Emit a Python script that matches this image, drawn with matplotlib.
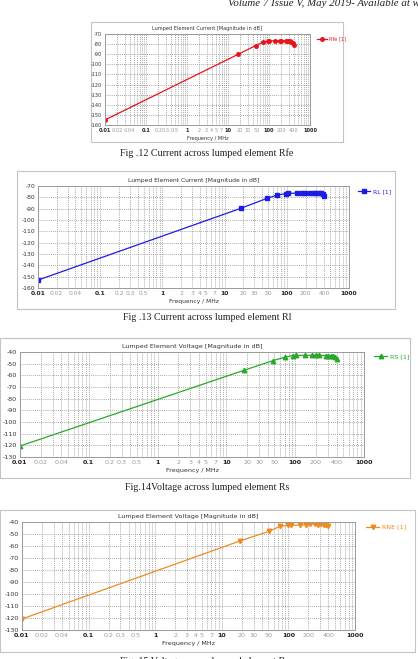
import matplotlib
matplotlib.use("Agg")
import matplotlib.pyplot as plt
from matplotlib.patches import Rectangle
from matplotlib.ticker import LogLocator, NullFormatter

W, H = 418, 659

# frequency tick labels shown on every chart
tick_freqs = [0.01, 0.02, 0.04, 0.1, 0.2, 0.3, 0.5, 1, 2, 3, 4, 5, 7, 10, 20, 30, 50, 100, 200, 400, 1000]
tick_labels = ["0.01", "0.02", "0.04", "0.1", "0.2", "0.3", "0.5", "1", "2", "3", "4", "5", "7",
               "10", "20", "30", "50", "100", "200", "400", "1000"]
strong_labels = ["0.01", "0.1", "1", "10", "100", "1000"]

# Fig 12 - Rfe current
rfe_freq = [0.01, 17.8, 47, 70, 92, 100, 141, 190, 200, 260, 290, 320, 350, 375, 400]
rfe_db = [-155, -90, -81.5, -78.3, -77.3, -77.0, -76.6, -76.5, -76.6, -76.8, -76.9, -77.2, -77.8, -79.0, -80.5]

# Fig 13 - RL current
rl_freq = [0.01, 18.2, 47.5, 70, 96, 103, 144, 177, 198, 236, 274, 300, 330, 360, 385, 400]
rl_db = [-153, -89.7, -81.0, -78.0, -76.8, -76.5, -76.3, -76.2, -76.0, -76.4, -76.2, -76.2, -76.3, -76.5, -77.0, -78.7]

# Fig 14 - RS voltage
rs_freq = [0.01, 18, 47.5, 72, 93, 104, 140, 175, 202, 225, 280, 300, 330, 350, 380, 400]
rs_db = [-120.6, -55.7, -47.4, -44.3, -43.0, -42.9, -42.8, -42.8, -42.4, -42.8, -43.0, -43.0, -43.1, -43.4, -44.3, -46.3]

# Fig 15 - RNE voltage
rne_freq = [0.01, 18.7, 51.7, 74.6, 99.5, 111, 149, 182, 209, 250, 280, 310, 340, 370, 400]
rne_db = [-120.8, -55.8, -47.7, -43.6, -42.8, -42.8, -42.5, -42.2, -41.4, -42.0, -42.2, -42.0, -42.2, -42.5, -43.3]


def fx(x):
    return x / W


def fy(y):
    return 1 - y / H


def draw_panel(fig, frame, plot, freq, db, ylim, title, label, color, marker, fs, leg_xy):
    x0, y0, x1, y1 = frame
    fig.add_artist(Rectangle((fx(x0), fy(y1)), fx(x1 - x0), (y1 - y0) / H, transform=fig.transFigure,
                             facecolor="white", edgecolor="#c4c4c4", linewidth=0.8, zorder=0))
    px0, py0, px1, py1 = plot
    ax = fig.add_axes([fx(px0), fy(py1), fx(px1 - px0), (py1 - py0) / H])
    ax.plot(freq, db, color=color, marker=marker, markersize=fs * 0.7, linewidth=0.9, label=label)
    ax.set_xscale("log")
    ax.set_xlim(0.01, 1000)
    ax.set_ylim(*ylim)
    ax.set_yticks(range(ylim[0], ylim[1] + 1, 10))
    ax.set_xticks(tick_freqs)
    ax.set_xticklabels(tick_labels)
    ax.xaxis.set_minor_locator(LogLocator(base=10, subs=range(1, 10), numticks=20))
    ax.xaxis.set_minor_formatter(NullFormatter())
    for t in ax.get_xticklabels():
        if t.get_text() in strong_labels:
            t.set_color("#222222")
            t.set_fontweight("bold")
        else:
            t.set_color("#9a9a9a")
    ax.tick_params(axis="both", which="both", length=0, labelsize=fs, pad=2)
    ax.tick_params(axis="y", colors="#333333")
    ax.grid(True, which="both", axis="x", linestyle=(0, (1, 1.5)), color="#8c8c8c", linewidth=0.6)
    ax.grid(True, which="major", axis="y", linestyle=(0, (1, 1.5)), color="#8c8c8c", linewidth=0.6)
    for s in ax.spines.values():
        s.set_color("#9a9a9a")
        s.set_linewidth(0.7)
    ax.set_title(title, fontsize=fs, color="#333333", pad=3)
    ax.set_xlabel("Frequency / MHz", fontsize=fs, color="#333333", labelpad=2)
    ax.legend(loc="center left", bbox_to_anchor=(fx(leg_xy[0]), fy(leg_xy[1])), bbox_transform=fig.transFigure,
              frameon=False, fontsize=fs, handlelength=2.0, handletextpad=0.5, borderpad=0, labelcolor=color)
    return ax


plt.rcParams["font.family"] = ["DejaVu Sans"]
plt.rcParams["axes.unicode_minus"] = False
fig = plt.figure(figsize=(W / 100, H / 100), dpi=100)

draw_panel(fig, (91, 22, 343, 142), (105, 34, 310, 125), rfe_freq, rfe_db, (-160, -70),
           "Lumped Element Current [Magnitude in dB]", "Rfe [1]", "#e8141c", "o", 3.6, (314, 39))
draw_panel(fig, (17, 171, 395, 309), (38, 186, 349, 288), rl_freq, rl_db, (-160, -70),
           "Lumped Element Current [Magnitude in dB]", "RL [1]", "#1c1ce6", "s", 4.3, (355, 191.5))
draw_panel(fig, (0, 338, 410, 478), (20, 352, 364, 457), rs_freq, rs_db, (-130, -40),
           "Lumped Element Voltage [Magnitude in dB]", "RS [1]", "#2aa82a", "^", 4.6, (371, 357))
draw_panel(fig, (0, 510, 415, 652), (22, 522, 355, 630), rne_freq, rne_db, (-130, -40),
           "Lumped Element Voltage [Magnitude in dB]", "RNE [1]", "#f08c1e", "v", 4.6, (363, 527))

serif = ["Liberation Serif", "DejaVu Serif"]
fig.text(fx(228), fy(6), "Volume 7 Issue V, May 2019- Available at www.ijraset.com", family=serif,
         style="italic", fontsize=7.8, ha="left", va="baseline", color="#222222")
captions = [("Fig .12 Current across lumped element Rfe", 153),
            ("Fig .13 Current across lumped element Rl", 317),
            ("Fig.14Voltage across lumped element Rs", 487),
            ("Fig. 15 Voltage across lumped element Rne", 661)]
for text, y in captions:
    fig.text(fx(207), fy(y), text, family=serif, fontsize=7.2, ha="center", va="center", color="#222222")

fig.savefig("out.png", dpi=100)
